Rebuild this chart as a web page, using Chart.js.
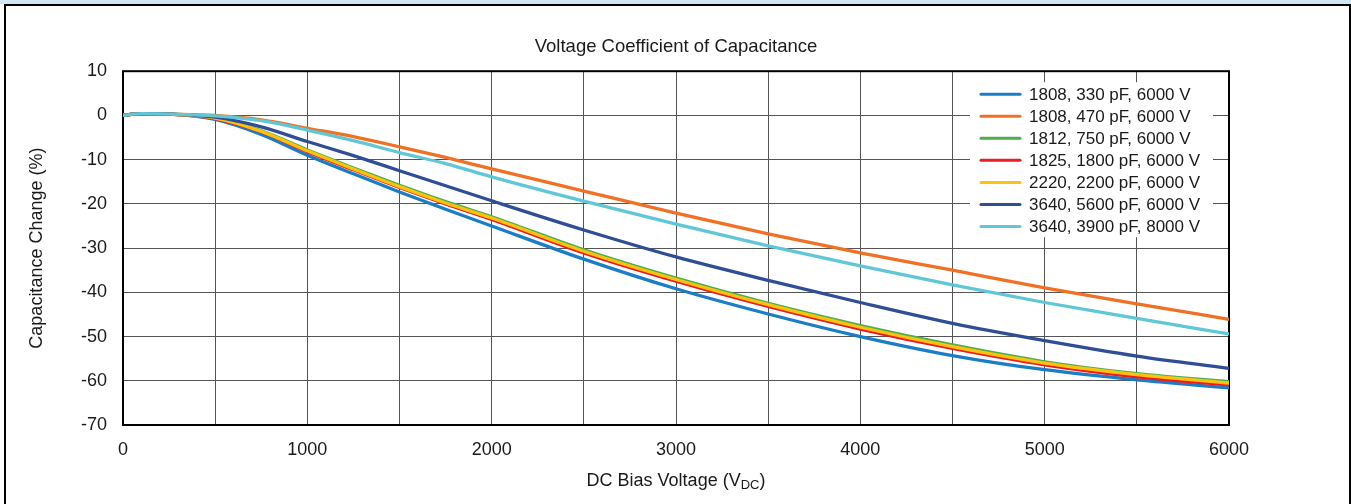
<!DOCTYPE html>
<html>
<head>
<meta charset="utf-8">
<title>Voltage Coefficient of Capacitance</title>
<script src="https://cdn.jsdelivr.net/npm/chart.js@4.4.1/dist/chart.umd.min.js"></script>
<style>
  html, body { margin: 0; padding: 0; background: #fff; }
  #wrap { position: relative; width: 1351px; height: 504px; overflow: hidden; }
  #kopBalk { position: absolute; left: 0; top: 0; width: 1351px; height: 4px; background: #d2e7f3; }
  #kopLijn { position: absolute; left: 4px; top: 4px; width: 1347px; height: 2px; background: #000; }
  #randLinks { position: absolute; left: 4px; top: 4px; width: 2px; height: 500px; background: #000; }
  #randRechts { position: absolute; left: 1349px; top: 4px; width: 2px; height: 500px; background: #000; }
</style>
</head>
<body>
<div id="wrap">
  <canvas id="vccChart" width="1351" height="504"></canvas>
  <div id="kopBalk"></div>
  <div id="kopLijn"></div>
  <div id="randLinks"></div>
  <div id="randRechts"></div>
</div>
<script>
const biasVolt = [0, 100, 250, 500, 750, 1000, 1250, 1500, 1750, 2000, 2500, 3000, 3500, 4000, 4500, 5000, 5500, 6000];

// capaciteitsverandering in %
const c1808_330 = [0, 0.4, 0.3, -0.9, -4.3, -9.0, -13.2, -17.3, -21.2, -25.0, -32.5, -39.2, -44.9, -50.0, -54.3, -57.5, -59.8, -61.6];
const c1808_470 = [0, 0.4, 0.3, 0.0, -1.0, -2.9, -4.8, -7.1, -9.5, -12.1, -17.1, -22.1, -26.8, -31.1, -35.0, -39.0, -42.6, -46.1];
const c1812_750 = [0, 0.4, 0.3, -0.6, -3.5, -7.8, -11.9, -15.8, -19.5, -22.9, -30.4, -36.8, -42.5, -47.5, -51.9, -55.7, -58.4, -60.2];
const c1825_1800 = [0, 0.4, 0.3, -0.7, -3.7, -8.2, -12.3, -16.3, -20.0, -23.5, -31.1, -37.5, -43.2, -48.3, -52.7, -56.4, -59.1, -60.9];
const c2220_2200 = [0, 0.4, 0.3, -0.6, -3.6, -8.0, -12.1, -16.1, -19.8, -23.2, -30.7, -37.1, -42.8, -47.9, -52.3, -56.0, -58.6, -60.5];
const c3640_5600 = [0, 0.4, 0.3, -0.4, -2.6, -5.9, -9.1, -12.5, -15.9, -19.3, -25.9, -32.0, -37.3, -42.3, -47.0, -50.9, -54.4, -57.2];
const c3640_3900 = [0, 0.4, 0.3, -0.1, -1.2, -3.3, -5.7, -8.4, -10.9, -13.9, -19.4, -24.6, -29.5, -34.0, -38.3, -42.3, -45.9, -49.4];

const reeksLabels = [
  "1808, 330 pF, 6000 V",
  "1808, 470 pF, 6000 V",
  "1812, 750 pF, 6000 V",
  "1825, 1800 pF, 6000 V",
  "2220, 2200 pF, 6000 V",
  "3640, 5600 pF, 6000 V",
  "3640, 3900 pF, 8000 V",
];
const reeksData = [c1808_330, c1808_470, c1812_750, c1825_1800, c2220_2200, c3640_5600, c3640_3900];
const reeksKleuren = ["#1a7dc6", "#f07125", "#4caf4c", "#ec1c24", "#fdc210", "#2f4e96", "#5fc7d6"];

const xTicks = [0, 1000, 2000, 3000, 4000, 5000, 6000];
const yTicks = [10, 0, -10, -20, -30, -40, -50, -60, -70];

const FONT = "'Liberation Sans', Arial, sans-serif";
Chart.defaults.font.family = FONT;
Chart.defaults.color = "#1a1a1a";

let vccChart = null;

/**
 * Kader rond het plotgebied (onder de lijnen)
 */
const plotKader = {
  id: "plotKader",
  beforeDatasetsDraw(chart) {
    const { ctx, chartArea: a } = chart;
    ctx.save();
    ctx.strokeStyle = "#000";
    ctx.lineWidth = 2;
    ctx.strokeRect(a.left, a.top, a.right - a.left, a.bottom - a.top);
    ctx.restore();
  },
};

/**
 * Legenda binnen het plotgebied, rechtsboven
 */
const binnenLegenda = {
  id: "binnenLegenda",
  afterDraw(chart) {
    const { ctx, chartArea: a } = chart;
    const x0 = a.right - 259;
    const y0 = a.top + 11;
    ctx.save();
    ctx.fillStyle = "#fff";
    ctx.fillRect(x0, y0, 243, 155);
    ctx.font = "17px " + FONT;
    ctx.textBaseline = "middle";
    ctx.textAlign = "left";
    chart.data.datasets.forEach((ds, i) => {
      const y = y0 + 12 + i * 22.05;
      ctx.strokeStyle = ds.borderColor;
      ctx.lineWidth = 3;
      ctx.lineCap = "round";
      ctx.beginPath();
      ctx.moveTo(x0 + 11, y);
      ctx.lineTo(x0 + 50, y);
      ctx.stroke();
      ctx.fillStyle = "#1a1a1a";
      ctx.fillText(ds.label, x0 + 59, y + 1);
    });
    ctx.restore();
  },
};

/**
 * X-as titel met subscript DC
 */
const xTitel = {
  id: "xTitel",
  afterDraw(chart) {
    const { ctx, chartArea: a } = chart;
    const deel1 = "DC Bias Voltage (V";
    const sub = "DC";
    const deel2 = ")";
    ctx.save();
    ctx.fillStyle = "#1a1a1a";
    ctx.textBaseline = "alphabetic";
    ctx.font = "18px " + FONT;
    const w1 = ctx.measureText(deel1).width;
    const w3 = ctx.measureText(deel2).width;
    ctx.font = "13px " + FONT;
    const w2 = ctx.measureText(sub).width;
    const start = (a.left + a.right) / 2 - (w1 + w2 + w3) / 2;
    const basis = 486;
    ctx.font = "18px " + FONT;
    ctx.fillText(deel1, start, basis);
    ctx.font = "13px " + FONT;
    ctx.fillText(sub, start + w1, basis + 3);
    ctx.font = "18px " + FONT;
    ctx.fillText(deel2, start + w1 + w2, basis);
    ctx.restore();
  },
};

function tekenGrafiek() {
  const ctx = document.getElementById("vccChart").getContext("2d");

  const datasets = reeksData.map((waarden, i) => ({
    label: reeksLabels[i],
    data: waarden.map((v, j) => ({ x: biasVolt[j], y: v })),
    borderColor: reeksKleuren[i],
    backgroundColor: reeksKleuren[i],
    borderWidth: 3.3,
    pointRadius: 0,
    cubicInterpolationMode: "monotone",
    fill: false,
    // laatste reeks bovenop, zoals in het origineel
    order: reeksData.length - i,
  }));

  if (vccChart) vccChart.destroy();

  vccChart = new Chart(ctx, {
    type: "line",
    data: { datasets },
    options: {
      responsive: false,
      animation: false,
      layout: { padding: { left: 0, right: 122, top: 0, bottom: 0 } },
      plugins: {
        legend: { display: false },
        tooltip: { enabled: false },
        title: {
          display: true,
          fullSize: false,
          text: "Voltage Coefficient of Capacitance",
          color: "#1a1a1a",
          font: { size: 18.5, weight: "normal" },
          padding: { top: 36, bottom: 13 },
        },
      },
      scales: {
        x: {
          type: "linear",
          min: 0,
          max: 6000,
          border: { display: false },
          grid: { color: "#555", lineWidth: 1, drawTicks: false },
          ticks: {
            stepSize: 500,
            autoSkip: false,
            maxRotation: 0,
            padding: 14,
            color: "#1a1a1a",
            font: { size: 18 },
            callback: (v) => (xTicks.includes(v) ? String(v) : ""),
          },
          afterFit(scale) {
            scale.height = 79;
          },
        },
        y: {
          type: "linear",
          min: yTicks[yTicks.length - 1],
          max: yTicks[0],
          border: { display: false },
          grid: { color: "#555", lineWidth: 1, drawTicks: false },
          ticks: {
            stepSize: 10,
            padding: 16,
            color: "#1a1a1a",
            font: { size: 18 },
          },
          title: {
            display: true,
            text: "Capacitance Change (%)",
            color: "#1a1a1a",
            font: { size: 18 },
            padding: { top: 26, bottom: 0 },
          },
          afterFit(scale) {
            scale.width = 123;
          },
        },
      },
    },
    plugins: [plotKader, binnenLegenda, xTitel],
  });
}

tekenGrafiek();
</script>
</body>
</html>
